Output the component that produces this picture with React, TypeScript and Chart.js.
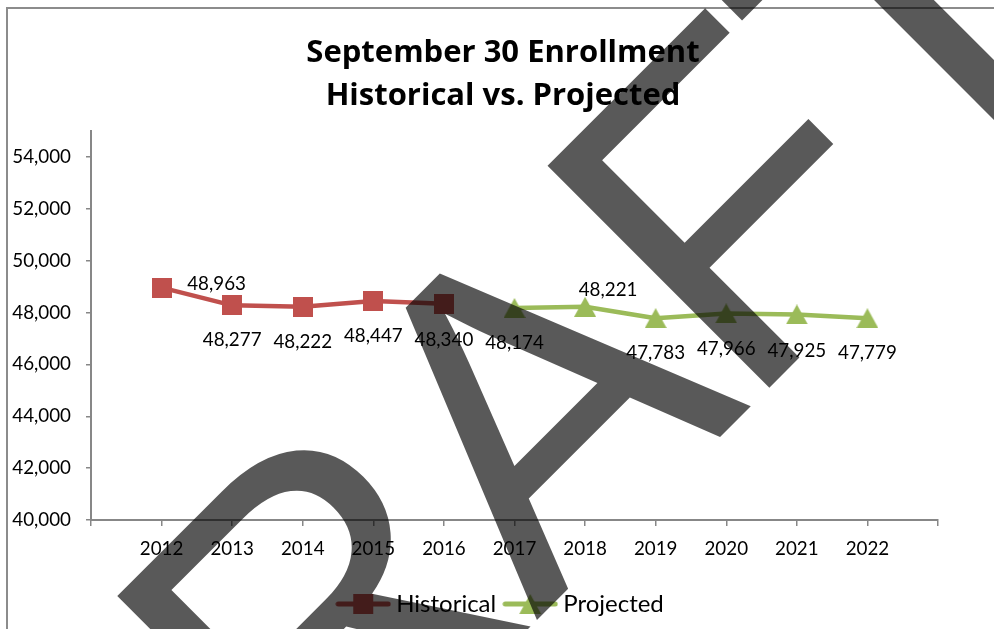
import React, { useEffect, useRef } from 'react';
import { Chart, registerables } from 'chart.js';

Chart.register(...registerables);

// ---- data ----
const years = [2012, 2013, 2014, 2015, 2016, 2017, 2018, 2019, 2020, 2021, 2022];
const historical: (number | null)[] = [48963, 48277, 48222, 48447, 48340, null, null, null, null, null, null];
const projected: (number | null)[] = [null, null, null, null, null, 48174, 48221, 47783, 47966, 47925, 47779];
const seriesNames = ['Historical', 'Projected'];
const titleLines = ['September 30 Enrollment', 'Historical vs. Projected'];
const yMin = 40000;
const yMax = 55000;
const yTickValues = [40000, 42000, 44000, 46000, 48000, 50000, 52000, 54000];
const watermarkText = 'DRAFT';

// ---- styling ----
const RED = '#C0504D';
const GREEN = '#9BBB59';
const AXIS = '#878787';
const FONT = 'Lato';
// label offset (dx, dy) per year index, relative to the point
const labelOffsets: [number, number][] = [
  [55, -4], [0, 35], [0, 35], [0, 35], [0, 36], [0, 35], [23, -17], [0, 35], [0, 36], [0, 36], [0, 35],
];

function makeSquare(color: string, size: number) {
  const c = document.createElement('canvas');
  c.width = size; c.height = size;
  const g = c.getContext('2d')!;
  g.fillStyle = color;
  g.fillRect(0, 0, size, size);
  return c;
}
function makeTriangle(color: string, w: number, h: number) {
  const c = document.createElement('canvas');
  c.width = w; c.height = h;
  const g = c.getContext('2d')!;
  g.fillStyle = color;
  g.beginPath();
  g.moveTo(w / 2, 0); g.lineTo(w, h); g.lineTo(0, h); g.closePath();
  g.fill();
  return c;
}
function makeLegendIcon(color: string, marker: HTMLCanvasElement) {
  const w = 56, h = 22;
  const c = document.createElement('canvas');
  c.width = w; c.height = h;
  const g = c.getContext('2d')!;
  g.strokeStyle = color; g.lineWidth = 5; g.lineCap = 'round';
  g.beginPath(); g.moveTo(3, h / 2); g.lineTo(w - 3, h / 2); g.stroke();
  g.drawImage(marker, (w - marker.width) / 2, (h - marker.height) / 2);
  return c;
}

const fmt = (v: number) => v.toLocaleString('en-US');

const framePlugin = {
  id: 'frame',
  beforeDraw(chart: any) {
    const ctx = chart.ctx;
    ctx.save();
    ctx.fillStyle = '#8c8c8c';
    ctx.fillRect(6, 7, 1000, 2);
    ctx.fillRect(6, 7, 2, 700);
    ctx.restore();
  },
};

const labelPlugin = {
  id: 'valueLabels',
  afterDatasetsDraw(chart: any) {
    const ctx = chart.ctx;
    ctx.save();
    ctx.font = `18.8px ${FONT}`;
    ctx.fillStyle = '#000';
    ctx.textAlign = 'center';
    ctx.textBaseline = 'middle';
    chart.data.datasets.forEach((ds: any, di: number) => {
      const meta = chart.getDatasetMeta(di);
      meta.data.forEach((el: any, j: number) => {
        const raw = ds.data[j];
        const idx = years.indexOf(raw.x);
        const [dx, dy] = labelOffsets[idx];
        ctx.fillText(fmt(raw.y), el.x + dx, el.y + dy);
      });
    });
    ctx.restore();
  },
};

// watermark: letters laid out along a 45° baseline
const watermarkPlugin = {
  id: 'watermark',
  afterDraw(chart: any) {
    const ctx = chart.ctx;
    const origin = [89, 1068];
    const ang = -Math.PI / 4;
    const rx = Math.cos(ang), ry = Math.sin(ang);
    ctx.save();
    ctx.fillStyle = 'rgba(0,0,0,0.65)';
    ctx.textAlign = 'left';
    ctx.textBaseline = 'alphabetic';
    const letters = watermarkText.split('');
    let adv = 0;
    letters.forEach((ch) => {
      ctx.font = '438px "Liberation Sans"';
      const w = ctx.measureText(ch).width;
      ctx.save();
      ctx.translate(origin[0] + adv * rx, origin[1] + adv * ry);
      ctx.rotate(ang);
      ctx.font = '456px "Liberation Sans"';
      ctx.fillText(ch, 0, 0);
      ctx.restore();
      adv += w;
    });
    ctx.restore();
  },
};

export default function App() {
  const ref = useRef<HTMLCanvasElement>(null);
  useEffect(() => {
    const square = makeSquare(RED, 20);
    const triangle = makeTriangle(GREEN, 22, 20);
    const legendIcons = [makeLegendIcon(RED, square), makeLegendIcon(GREEN, triangle)];

    const toPoints = (arr: (number | null)[]) =>
      years.map((x, i) => (arr[i] == null ? null : { x, y: arr[i] as number })).filter(Boolean) as { x: number; y: number }[];

    const chart = new Chart(ref.current!, {
      type: 'line',
      data: {
        datasets: [
          {
            label: seriesNames[0],
            data: toPoints(historical),
            borderColor: RED,
            backgroundColor: RED,
            borderWidth: 4.5,
            borderJoinStyle: 'round',
            borderCapStyle: 'round',
            pointStyle: square as any,
            pointRadius: 10,
            tension: 0,
            xAxisID: 'x',
            yAxisID: 'y',
          },
          {
            label: seriesNames[1],
            data: toPoints(projected),
            borderColor: GREEN,
            backgroundColor: GREEN,
            borderWidth: 4.5,
            borderJoinStyle: 'round',
            borderCapStyle: 'round',
            pointStyle: triangle as any,
            pointRadius: 10,
            tension: 0,
            xAxisID: 'x',
            yAxisID: 'y',
          },
        ],
      },
      options: {
        animation: false,
        responsive: false,
        devicePixelRatio: 1,
        layout: { padding: { left: 12, right: 0, top: 0, bottom: 3 } },
        font: { family: FONT },
        scales: {
          x: {
            type: 'linear',
            position: 'bottom',
            min: years[0] - 1,
            max: years[years.length - 1] + 1,
            ticks: {
              stepSize: 1,
              autoSkip: false,
              maxRotation: 0,
              color: '#000',
              padding: 12,
              font: { family: FONT, size: 18.8 },
              callback: (v: any) => (years.includes(Number(v)) ? String(v) : ''),
            },
            grid: { drawOnChartArea: false, drawTicks: true, tickLength: 6, color: AXIS, lineWidth: 1.5 },
            border: { display: true, color: AXIS, width: 2 },
            afterFit: (s: any) => { s.height = 59; },
          },
          y: {
            type: 'linear',
            position: 'left',
            min: yMin,
            max: yMax,
            afterBuildTicks: (s: any) => { s.ticks = yTickValues.map((value) => ({ value })); },
            ticks: {
              color: '#000',
              padding: 15,
              font: { family: FONT, size: 18.8 },
              callback: (v: any) => fmt(Number(v)),
            },
            grid: { drawOnChartArea: false, drawTicks: true, tickLength: 5, color: AXIS, lineWidth: 1.5 },
            border: { display: true, color: AXIS, width: 2 },
            afterFit: (s: any) => { s.width = 79; },
          },
          yR: {
            type: 'linear',
            position: 'right',
            display: true,
            grid: { display: false },
            border: { display: false },
            ticks: { display: false },
            afterFit: (s: any) => { s.width = 56; },
          },
        },
        plugins: {
          title: {
            display: true,
            text: titleLines,
            color: '#000',
            font: { family: 'Open Sans', weight: 'bold', size: 31, lineHeight: 1.371 },
            padding: { top: 32, bottom: 14 },
          },
          legend: {
            display: true,
            position: 'bottom',
            labels: {
              usePointStyle: true,
              pointStyleWidth: 42,
              padding: 13,
              color: '#000',
              font: { family: FONT, size: 24 },
              generateLabels: (c: any) => {
                const items = (Chart.defaults.plugins.legend.labels.generateLabels as any)(c);
                return items.map((it: any, i: number) => ({ ...it, pointStyle: legendIcons[i] }));
              },
            },
          },
          tooltip: { enabled: false },
        },
      } as any,
      plugins: [framePlugin, labelPlugin, watermarkPlugin],
    });
    return () => chart.destroy();
  }, []);

  return (
    <div style={{ position: 'fixed', left: 0, top: 0, width: 994, height: 629, overflow: 'hidden', background: '#fff' }}>
      <canvas ref={ref} width={994} height={629} style={{ display: 'block', width: 994, height: 629 }} />
    </div>
  );
}
